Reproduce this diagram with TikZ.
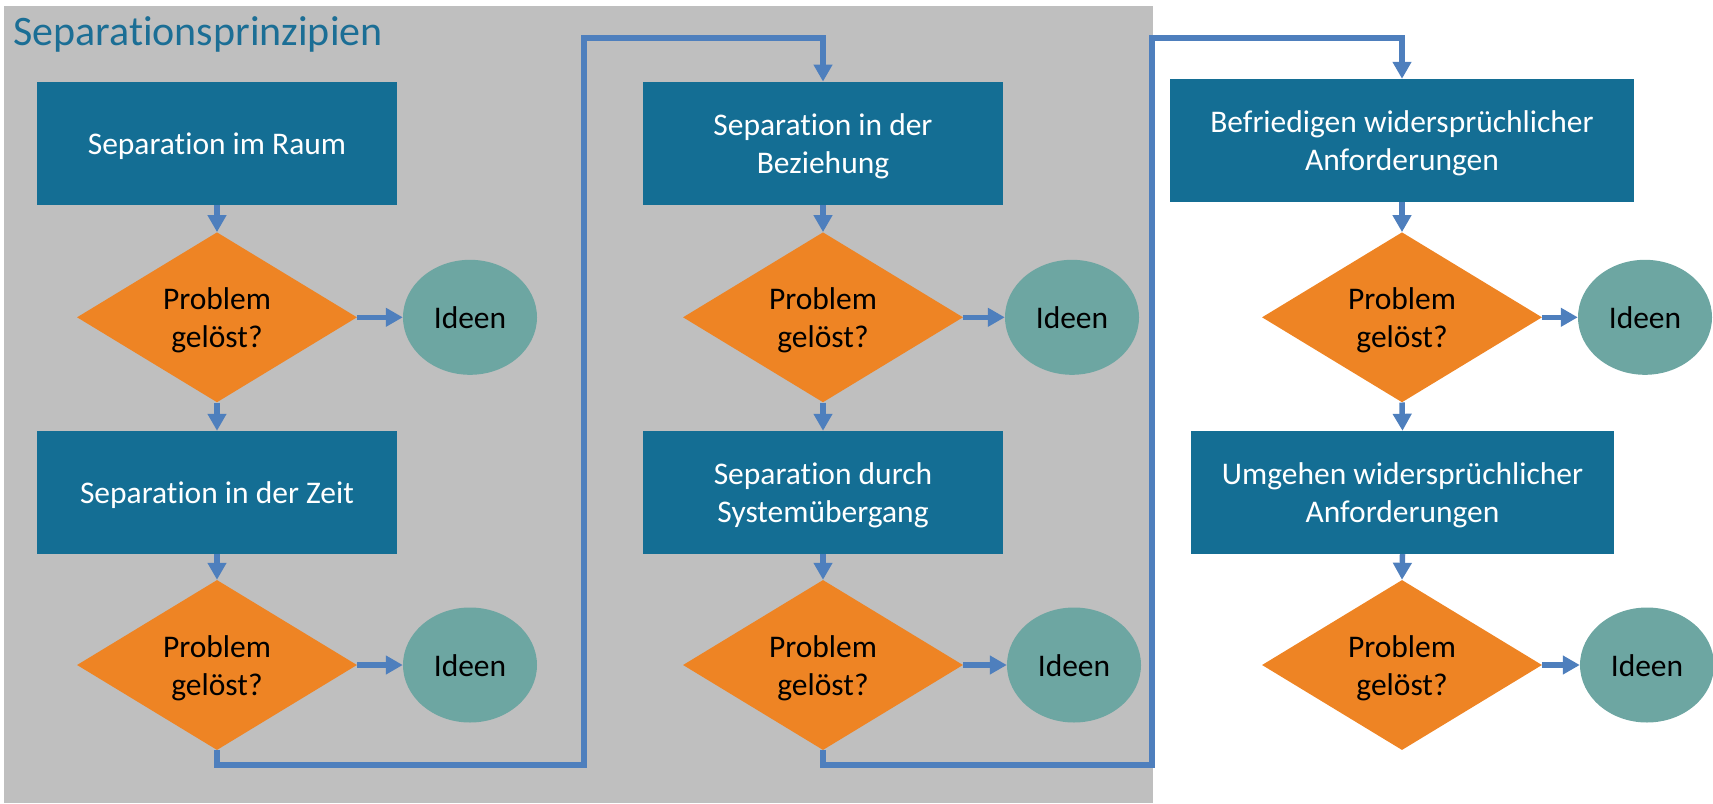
\documentclass[tikz,border=0pt]{standalone}
\usepackage{fontspec}
\setmainfont{Carlito}[Ligatures=NoCommon]
\usetikzlibrary{shapes.geometric,arrows.meta}
\definecolor{panelgray}{HTML}{BFBFBF}
\definecolor{boxblue}{HTML}{146E94}
\definecolor{decorange}{HTML}{EE8424}
\definecolor{ideenteal}{HTML}{6DA6A2}
\definecolor{arrowblue}{HTML}{4E7FBD}
\definecolor{titleblue}{HTML}{1B6E95}
\newcommand\lbl[1]{\raisebox{0pt}[\dimexpr\height+7.2pt\relax][\depth]{\begin{tabular}[t]{@{}c@{}}#1\end{tabular}}}
\tikzset{
  stepbox/.style={rectangle, fill=boxblue, text=white, inner sep=0pt,
    minimum width=360pt, minimum height=123pt,
    font=\fontsize{31.5}{38}\selectfont},
  decision/.style={diamond, fill=decorange, text=black, inner sep=0pt,
    aspect=1.647, minimum width=280pt, minimum height=170pt,
    font=\fontsize{31.5}{38}\selectfont},
  idea/.style={ellipse, fill=ideenteal, text=black, inner sep=0pt,
    minimum width=134pt, minimum height=115pt,
    font=\fontsize{31.5}{38}\selectfont},
  conn/.style={draw=arrowblue, line width=5.5pt, line join=miter,
    -{Triangle[length=17pt,width=18pt]}}
}
\begin{document}
\begin{tikzpicture}[x=1pt,y=-1pt]
\useasboundingbox (0,0) rectangle (1713,803);
\fill[panelgray] (4,6) rectangle (1153,803);
\node[anchor=base west, text=titleblue, inner sep=0pt, font=\fontsize{42}{50}\selectfont] (title) at (13,45) {Separationsprinzipien};

% column 1
\node[stepbox] (b1) at (217,143.3) {\lbl{Separation im Raum}};
\node[decision] (d1) at (217,317.3) {\lbl{Problem\\gelöst?}};
\node[idea] (i1) at (470,317.3) {\lbl{Ideen}};
\node[stepbox] (b2) at (217,492.5) {\lbl{Separation in der Zeit}};
\node[decision] (d2) at (217,665) {\lbl{Problem\\gelöst?}};
\node[idea] (i2) at (470,665) {\lbl{Ideen}};

% column 2
\node[stepbox] (b3) at (823,143.3) {\lbl{Separation in der\\Beziehung}};
\node[decision] (d3) at (823,317.3) {\lbl{Problem\\gelöst?}};
\node[idea] (i3) at (1072,317.3) {\lbl{Ideen}};
\node[stepbox] (b4) at (823,492.5) {\lbl{Separation durch\\Systemübergang}};
\node[decision] (d4) at (823,665) {\lbl{Problem\\gelöst?}};
\node[idea] (i4) at (1074,665) {\lbl{Ideen}};

% column 3
\node[stepbox, minimum width=464pt] (b5) at (1402,140.5) {\lbl{Befriedigen widersprüchlicher\\Anforderungen}};
\node[decision] (d5) at (1402,317.3) {\lbl{Problem\\gelöst?}};
\node[idea] (i5) at (1645,317.3) {\lbl{Ideen}};
\node[stepbox, minimum width=423pt] (b6) at (1402.5,492.5) {\lbl{Umgehen widersprüchlicher\\Anforderungen}};
\node[decision] (d6) at (1402,665) {\lbl{Problem\\gelöst?}};
\node[idea] (i6) at (1647,665) {\lbl{Ideen}};

% routing points
\coordinate (r1) at (584,765);
\coordinate (t1) at (584,38);
\coordinate (r2) at (1152,765);
\coordinate (t2) at (1152,38);

% connectors
\foreach \a/\b in {b1/d1, d1/b2, b2/d2, b3/d3, d3/b4, b4/d4, b5/d5, d5/b6, b6/d6}
  \draw[conn] (\a.south) -- (\b.north);
\foreach \a/\b in {d1/i1, d2/i2, d3/i3, d4/i4, d5/i5, d6/i6}
  \draw[conn] (\a.east) -- (\b.west);
\draw[conn] (d2.south) |- (r1) -- (t1) -| (b3.north);
\draw[conn] (d4.south) |- (r2) -- (t2) -| (b5.north);
\end{tikzpicture}
\end{document}
